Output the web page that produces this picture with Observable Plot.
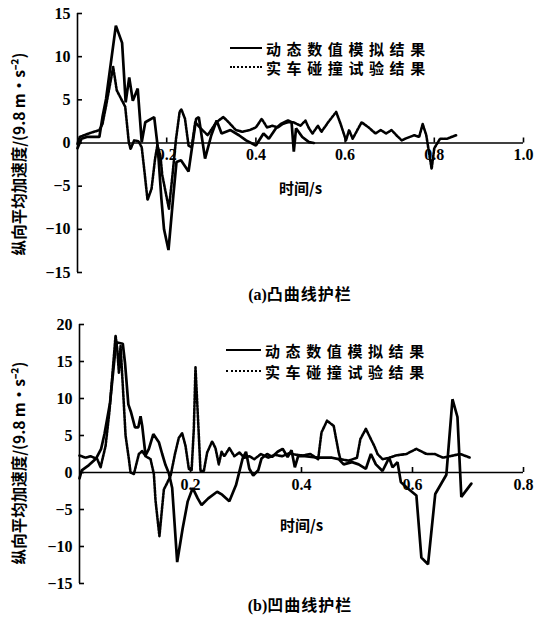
<!DOCTYPE html>
<html>
<head>
<meta charset="utf-8">
<script src="https://cdn.jsdelivr.net/npm/d3@7"></script>
<script src="https://cdn.jsdelivr.net/npm/@observablehq/plot@0.6"></script>
<style>
  html, body { margin: 0; padding: 0; background: #fff; }
  #root { position: relative; width: 546px; height: 619px; overflow: hidden; }
  .panel { position: absolute; left: 0; width: 546px; }
  .cap { position: absolute; left: 77px; width: 446px; text-align: center; font-family: "Noto Sans CJK SC", "Liberation Serif", serif; font-weight: bold; font-size: 16px; line-height: 20px; color: #000; letter-spacing: 1px; }
  .cap .ser { font-family: "Liberation Serif", serif; letter-spacing: 0; }
  .leg { position: absolute; height: 20px; display: flex; align-items: center; font-family: "Noto Sans CJK SC", sans-serif; font-weight: bold; font-size: 15px; letter-spacing: 5.6px; color: #000; white-space: nowrap; }
  .sw { display: inline-block; height: 0; margin-right: 4px; }
  .sw.solid { border-top: 2.6px solid #000; }
  .sw.dot { border-top: 2.6px dotted #000; }
</style>
</head>
<body>
<div id="root"></div>
<script>
// ---------- data: panel (a) 凸曲线护栏 ----------
const aSimT = [0, 0.009, 0.021, 0.049, 0.056, 0.064, 0.086, 0.1, 0.108, 0.116, 0.124, 0.135, 0.144, 0.152, 0.172, 0.18, 0.188, 0.194, 0.204, 0.215, 0.222, 0.232, 0.249, 0.266, 0.272, 0.286, 0.3, 0.312, 0.323, 0.343, 0.362, 0.378, 0.4, 0.417, 0.429, 0.445, 0.456, 0.472, 0.48, 0.485, 0.49, 0.504, 0.519, 0.53];
const aSimV = [-0.6, 0.5, 0.7, 0.7, 3.0, 5.1, 13.6, 11.6, 4.7, 7.6, 4.9, 6.3, 0.1, 2.4, 3.0, -0.5, -6.4, -10.0, -12.4, -6.0, -2.2, -2.0, -3.3, 2.8, 3.0, -1.8, 0.9, 2.6, 1.1, 1.5, 0.9, 0.3, -0.3, 1.1, 0.5, 1.7, 2.2, 2.6, 2.4, -1.0, 1.7, 0.7, 0.1, 0];
const aTestT = [0, 0.005, 0.025, 0.049, 0.056, 0.064, 0.08, 0.088, 0.096, 0.107,
  0.115, 0.119, 0.127, 0.137, 0.144, 0.151, 0.157, 0.166, 0.174, 0.179,
  0.186, 0.19, 0.198, 0.205, 0.213, 0.221, 0.229, 0.233, 0.241, 0.249,
  0.256, 0.264, 0.276, 0.292, 0.311, 0.327, 0.339, 0.355, 0.37, 0.386,
  0.4, 0.413, 0.425, 0.437, 0.449, 0.46, 0.472, 0.484, 0.5, 0.511,
  0.519, 0.527, 0.539, 0.547, 0.562, 0.574, 0.58, 0.59, 0.602, 0.609,
  0.617, 0.637, 0.653, 0.668, 0.68, 0.692, 0.704, 0.715, 0.727, 0.735,
  0.755, 0.766, 0.774, 0.782, 0.794, 0.8, 0.813, 0.829, 0.849];
const aTestV = [-0.1, 0.7, 1.1, 1.5, 2.2, 4.3, 8.8, 6.1, 5.3, 4.2,
  0.1, -0.7, 0.3, 0.2, -0.5, -3.7, -6.6, -5.3, -1.8, -0.3,
  -1.5, -3.7, -5.8, -7.6, -3.7, 0.5, 3.6, 3.9, 2.8, -0.3,
  -0.5, 2.4, 1.7, 0.9, 2.4, 3.0, 2.4, 1.5, 1.3, 1.5,
  1.8, 2.8, 1.8, 2.0, 1.8, 2.2, 2.4, 2.4, 2.0, 2.6,
  1.7, 1.1, 2.0, 1.3, 2.4, 3.2, 3.6, 2.2, 0.3, 1.5,
  0.5, 2.4, 1.8, 1.1, 1.5, 1.1, 1.5, 0.9, 0.3, 0.5,
  0.9, 0.7, 2.2, 0.9, -3.0, -0.6, 0.5, 0.5, 0.9];
const aXTicks = [0.2, 0.4, 0.6, 0.8, 1.0];
const aYTicks = [-15, -10, -5, 0, 5, 10, 15];

// ---------- data: panel (b) 凹曲线护栏 ----------
const bSimT = [0, 0.004, 0.017, 0.03, 0.039, 0.045, 0.055, 0.066, 0.078, 0.082,
  0.088, 0.093, 0.1, 0.106, 0.11, 0.113, 0.119, 0.125, 0.133, 0.143,
  0.149, 0.155, 0.161, 0.167, 0.176, 0.186, 0.195, 0.204, 0.213, 0.22,
  0.232, 0.248, 0.257, 0.27, 0.282, 0.294, 0.3, 0.306, 0.313, 0.322,
  0.328, 0.338, 0.347, 0.357, 0.366, 0.375, 0.382, 0.388, 0.394, 0.406,
  0.43, 0.455, 0.467, 0.476, 0.491, 0.503, 0.516, 0.525, 0.534, 0.546,
  0.558, 0.564, 0.573, 0.579, 0.589, 0.607, 0.616, 0.628, 0.641, 0.661,
  0.672, 0.681, 0.688, 0.706];
const bSimV = [-0.8, 0.3, 1.0, 1.9, 3.2, 5.2, 9.4, 17.6, 17.4, 14.8,
  9.2, 8.1, 6.1, 6.1, 7.6, 6.3, 2.3, 3.2, 5.2, 4.1,
  2.5, 1.0, -0.1, -2.1, -12.1, -7.5, -3.9, -2.1, -3.5, -4.4,
  -3.5, -2.6, -3.0, -3.9, -1.7, 1.9, 2.8, 0.5, -0.4, 0.3,
  1.9, 2.5, 2.1, 2.8, 3.2, 2.1, 3.0, 0.7, 2.2, 2.2,
  2.0, 2.0, 1.8, 1.1, 1.4, 1.1, 0.5, 2.5, 1.1, 0.2,
  2.0, 0.7, 1.4, -1.3, -2.0, -3.1, -11.5, -12.4, -2.9, -0.3,
  9.9, 7.5, -3.3, -1.5];
const bTestT = [0, 0.011, 0.02, 0.032, 0.038, 0.047, 0.054, 0.065, 0.068, 0.071,
  0.074, 0.08, 0.083, 0.089, 0.092, 0.098, 0.107, 0.113, 0.119, 0.128,
  0.134, 0.137, 0.144, 0.152, 0.164, 0.172, 0.179, 0.185, 0.191, 0.197,
  0.202, 0.206, 0.209, 0.215, 0.218, 0.224, 0.23, 0.239, 0.245, 0.251,
  0.256, 0.261, 0.27, 0.279, 0.288, 0.297, 0.306, 0.315, 0.327, 0.34,
  0.352, 0.365, 0.378, 0.39, 0.403, 0.416, 0.43, 0.436, 0.446, 0.458,
  0.467, 0.47, 0.485, 0.5, 0.506, 0.516, 0.525, 0.531, 0.537, 0.546,
  0.558, 0.57, 0.589, 0.607, 0.625, 0.64, 0.655, 0.674, 0.686, 0.704];
const bTestV = [2.3, 2.0, 2.2, 1.8, 0.7, 3.6, 8.3, 18.5, 16.7, 13.5,
  17.1, 9.1, 5.0, 1.8, 0.0, -0.2, 2.5, 2.9, 2.2, 1.8,
  -0.2, -3.8, -8.6, -2.3, -0.5, 2.5, 4.7, 5.3, 3.6, 0.5,
  0.3, 5.9, 14.2, 5.0, 0.2, 0.2, 2.7, 4.2, 3.3, 1.1,
  2.8, 2.2, 3.3, 2.2, 2.7, 2.0, 2.2, 1.8, 2.5, 2.0,
  2.4, 2.2, 2.6, 2.4, 2.3, 2.5, 1.8, 5.4, 7.0, 6.3,
  2.7, 1.8, 1.6, 2.0, 4.5, 5.9, 4.5, 3.6, 2.5, 1.8,
  2.0, 2.3, 2.5, 3.2, 2.5, 2.5, 2.0, 2.3, 2.5, 2.0];
const bXTicks = [0.2, 0.4, 0.6, 0.8];
const bYTicks = [-15, -10, -5, 0, 5, 10, 15, 20];

const seriesNames = ["动态数值模拟结果", "实车碰撞试验结果"];
const xLabel = "时间/s";
const yLabel = "纵向平均加速度/(9.8 m·s⁻²)";
const captions = ["(a)凸曲线护栏", "(b)凹曲线护栏"];

const zip = (T, V) => T.map((t, i) => ({t, v: V[i]}));
const serif = "'Liberation Serif', 'Times New Roman', serif";
const cjk = "'Noto Sans CJK SC', sans-serif";

function makePanel(o) {
  return Plot.plot({
    width: 546,
    height: o.height,
    marginLeft: o.ml,
    marginRight: 23,
    marginTop: o.mt,
    marginBottom: o.mb,
    style: {background: "#fff", color: "#000", overflow: "visible"},
    x: {domain: o.xDomain, axis: null},
    y: {domain: o.yDomain},
    marks: [
      Plot.ruleY([0], {stroke: "#000", strokeWidth: 1.6}),
      Plot.ruleX([0], {stroke: "#000", strokeWidth: 1.6}),
      Plot.axisY({ticks: o.yTicks, tickSize: -5, tickPadding: 12, strokeWidth: 1.6, label: null,
        fontSize: 16, fontWeight: "bold", fontFamily: serif,
        tickFormat: d => (d < 0 ? "\u2212" + (-d) : String(d))}),
      Plot.ruleX(o.xTicks, {x: d => d, y1: 0, y2: 0, insetTop: -5, stroke: "#000", strokeWidth: 1.6}),
      Plot.text(o.xTicks, {x: d => d, y: 0, text: d => d.toFixed(1), dy: 12,
        fontSize: 16, fontWeight: "bold", fontFamily: serif, fill: "#000"}),
      Plot.text([xLabel], {frameAnchor: "top", dy: o.xLabelDy, text: d => d,
        fontSize: 15, fontWeight: "bold", fontFamily: cjk, fill: "#000"}),
      Plot.text([yLabel], {frameAnchor: "left", textAnchor: "middle", dx: -(o.ml - 20), dy: o.yLabelDy, rotate: -90, text: d => d,
        fontSize: 15.5, fontWeight: "bold", fontFamily: cjk, fill: "#000",
        style: {letterSpacing: "2.6px"}}),
      Plot.line(o.test, {x: "t", y: "v", stroke: "#000", strokeWidth: 2.6, strokeDasharray: "2.2,1.3"}),
      Plot.line(o.sim, {x: "t", y: "v", stroke: "#000", strokeWidth: 2.7, strokeLinejoin: "miter"})
    ]
  });
}

const root = document.getElementById("root");

function addPanel(top, plotEl, capTop, capText, legTop, legLeft, swW) {
  const p = document.createElement("div");
  p.className = "panel";
  p.style.top = top + "px";
  p.appendChild(plotEl);
  root.appendChild(p);
  const cap = document.createElement("div");
  cap.className = "cap";
  cap.style.top = capTop + "px";
  const m = capText.match(/^(\([ab]\))(.*)$/);
  cap.innerHTML = `<span class="ser">${m[1]}</span>${m[2]}`;
  root.appendChild(cap);
  seriesNames.forEach((name, i) => {
    const row = document.createElement("div");
    row.className = "leg";
    row.style.top = legTop[i] + "px";
    row.style.left = legLeft + "px";
    const sw = document.createElement("span");
    sw.className = "sw " + (i === 0 ? "solid" : "dot");
    sw.style.width = swW + "px";
    row.appendChild(sw);
    const tx = document.createElement("span");
    tx.textContent = name;
    row.appendChild(tx);
    root.appendChild(row);
  });
}

const plotA = makePanel({
  height: 282, ml: 77, mt: 13, mb: 10,
  xDomain: [0, 1], yDomain: [-15, 15],
  xTicks: aXTicks, yTicks: aYTicks,
  sim: zip(aSimT, aSimV), test: zip(aTestT, aTestV),
  xLabelDy: 170, yLabelDy: 11
});
addPanel(0, plotA, 283, captions[0], [38, 57], 230, 32);

const plotB = makePanel({
  height: 287, ml: 79, mt: 19, mb: 9,
  xDomain: [0, 0.8], yDomain: [-15, 20],
  xTicks: bXTicks, yTicks: bYTicks,
  sim: zip(bSimT, bSimV), test: zip(bTestT, bTestV),
  xLabelDy: 196, yLabelDy: 9
});
addPanel(305, plotB, 594, captions[1], [340, 361], 226, 35);
</script>
</body>
</html>
